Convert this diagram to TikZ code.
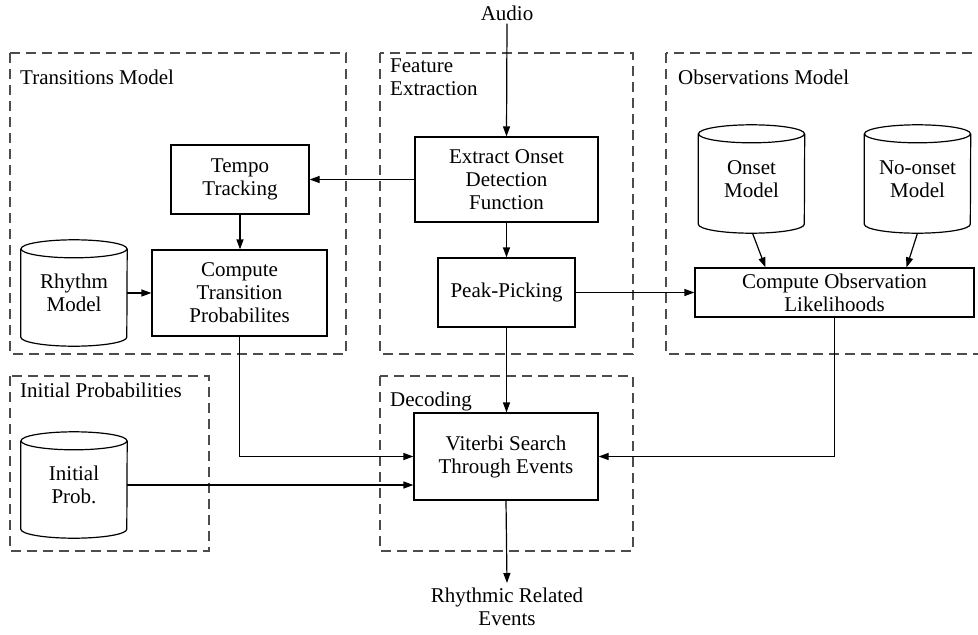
\documentclass[tikz,border=0pt]{standalone}
\usepackage{fontspec}
\setmainfont{Liberation Serif}
\usetikzlibrary{arrows.meta}
\newcommand\drawcyl[1]{%
  \draw[line width=1.2pt] ([yshift=-9pt]#1.north west) -- ([yshift=9pt]#1.south west)
    arc[start angle=180,end angle=360,x radius=53pt,y radius=9pt]
    -- ([yshift=-9pt]#1.north east);
  \draw[line width=1.2pt] ([yshift=-9pt]#1.north) ellipse[x radius=53pt,y radius=9pt];}
\begin{document}
\begin{tikzpicture}[x=1pt,y=-1pt,
  every node/.style={font=\fontsize{21}{23}\selectfont, inner sep=0pt, align=center},
  box/.style={draw, line width=1.2pt},
  cyl/.style={minimum width=106pt, minimum height=106pt},
  grp/.style={draw=black!70, line width=1.3pt, dash pattern=on 10pt off 6pt},
  arr/.style={line width=1.2pt, -{Triangle[length=10pt,width=7pt]}},
  ttl/.style={anchor=base west, align=left}]
\useasboundingbox (0,0) rectangle (978,635);
\clip (0,0) rectangle (978,635);
% groups
\draw[grp] (10,53) rectangle (346,354);
\draw[grp] (380,53) rectangle (633,354);
\draw[grp] (666,53) rectangle (990,354);
\draw[grp] (10,376) rectangle (209,551);
\draw[grp] (380,376) rectangle (633,551);
\node[ttl] (tTrans) at (20,84) {Transitions Model};
\node[ttl] (tFeat) at (390,72) {Feature};
\node[ttl] (tFeat2) at (390,95) {Extraction};
\node[ttl] (tObs) at (678,84) {Observations Model};
\node[ttl] (tInit) at (20,397) {Initial Probabilities};
\node[ttl] (tDec) at (390,406) {Decoding};
% nodes
\node[box, minimum width=138pt, minimum height=69pt] (tt) at (240,179.5) {Tempo\\Tracking};
\node[box, minimum width=175pt, minimum height=86pt] (ct) at (239.5,293) {Compute\\Transition\\Probabilites};
\node[cyl] (rm) at (74,293) {Rhythm\\Model};
\node[box, minimum width=183pt, minimum height=85pt] (eo) at (506.5,179.5) {Extract Onset\\Detection\\Function};
\node[box, minimum width=137pt, minimum height=69pt] (pp) at (506.5,292.5) {Peak-Picking};
\node[cyl, minimum height=108pt] (on) at (751.5,179) {Onset\\Model};
\node[cyl, minimum height=108pt] (no) at (917.5,179) {No-onset\\Model};
\node[box, minimum width=279pt, minimum height=49pt] (co) at (834.5,292.5) {Compute Observation\\Likelihoods};
\node[cyl] (ip) at (74,485) {Initial\\Prob.};
\node[box, minimum width=184pt, minimum height=87pt] (vs) at (506,456.5) {Viterbi Search\\Through Events};
\node (audio) at (507,13) {Audio};
\node[anchor=north] (out) at (507,588) {Rhythmic Related\\Events};
\drawcyl{rm}
\drawcyl{on}
\drawcyl{no}
\drawcyl{ip}
% connectors
\draw[arr] ([yshift=-3pt]audio.south) -- (eo.north);
\draw[arr] (eo.west) -- (tt.east);
\draw[arr] (tt.south) -- (tt.south |- ct.north);
\draw[arr] (rm.east) -- (ct.west);
\draw[arr] (eo.south) -- (pp.north);
\draw[arr] (pp.east) -- (co.west);
\draw[arr] ([xshift=1pt]on.south) -- ([xshift=-69pt]co.north);
\draw[arr] (no.south) -- ([xshift=72pt]co.north);
\draw[arr] (pp.south) -- (pp.south |- vs.north);
\draw[arr] (ct.south) |- (vs.west);
\draw[arr] (ip.east) -- (ip.east -| vs.west);
\draw[arr] (co.south) |- (vs.east);
\draw[arr] (vs.south) -- ([yshift=5pt]out.north);
\end{tikzpicture}
\end{document}
